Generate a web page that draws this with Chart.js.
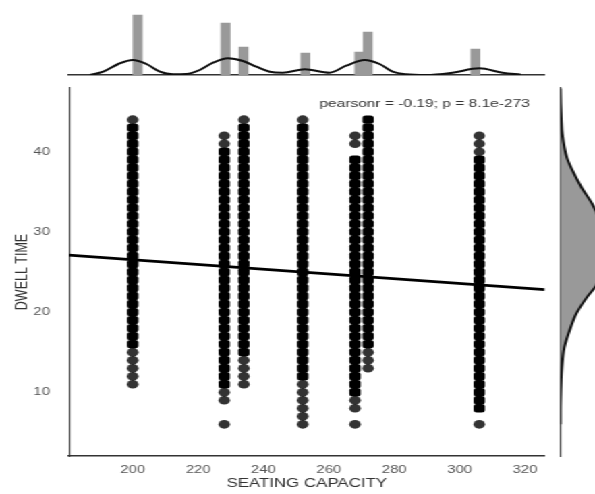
<!DOCTYPE html>
<html>
<head>
<meta charset="utf-8">
<script src="https://cdn.jsdelivr.net/npm/chart.js@4.4.1/dist/chart.umd.min.js"></script>
<style>
  html, body { margin: 0; padding: 0; background: #fff; overflow: hidden; }
  /* the reference is stretched sideways, so draw narrow and scale the whole stage */
  #stage { position: absolute; left: 0; top: 0; width: 441px; height: 494px;
           transform: scaleX(1.3492); transform-origin: 0 0; }
  #stage canvas { position: absolute; top: 0; }
</style>
</head>
<body>
<div id="stage">
  <canvas id="top-chart" width="441" height="80" style="left:0"></canvas>
  <canvas id="main-chart" width="441" height="494" style="left:0"></canvas>
  <canvas id="side-chart" width="43" height="494" style="left:410px"></canvas>
</div>
<script>
// Seating capacity columns and the dwell times seen in each one
const seatCapacity = [200, 228, 234, 252, 268, 272, 306];

// long runs of overlapping points (drawn solid black)
const dense200 = [16,17,18,19,20,21,22,23,24,25,26,27,28,29,30,31,32,33,34,35,36,37,38,39,40,41,42,43];
const dense228 = [11,12,13,14,15,16,17,18,19,20,21,22,23,24,25,26,27,28,29,30,31,32,33,34,35,36,37,38,39,40];
const dense234 = [15,16,17,18,19,20,21,22,23,24,25,26,27,28,29,30,31,32,33,34,35,36,37,38,39,40,41,42,43];
const dense252 = [12,13,14,15,16,17,18,19,20,21,22,23,24,25,26,27,28,29,30,31,32,33,34,35,36,37,38,39,40,41,42,43];
const dense268 = [10,11,12,13,14,15,16,17,18,19,20,21,22,23,24,25,26,27,28,29,30,31,32,33,34,35,36,37,38,39];
const dense272 = [16,17,18,19,20,21,22,23,24,25,26,27,28,29,30,31,32,33,34,35,36,37,38,39,40,41,42,43,44];
const dense306 = [8,9,10,11,12,13,14,15,16,17,18,19,20,21,22,23,24,25,26,27,28,29,30,31,32,33,34,35,36,37,38,39];

// single outlying points at the ends of each column
const sparse200 = [11, 12, 13, 14, 15, 44];
const sparse228 = [6, 9, 10, 41, 42];
const sparse234 = [11, 12, 13, 14, 44];
const sparse252 = [6, 7, 8, 9, 10, 11, 44];
const sparse268 = [6, 8, 9, 41, 42];
const sparse272 = [13, 14, 15];
const sparse306 = [6, 40, 41, 42];

const denseDwell = [dense200, dense228, dense234, dense252, dense268, dense272, dense306];
const sparseDwell = [sparse200, sparse228, sparse234, sparse252, sparse268, sparse272, sparse306];

// regression line at the axis limits
const regX = [180.5, 326];
const regY = [27.1, 22.8];

const xTicks = [200, 220, 240, 260, 280, 300, 320];
const yTicks = [10, 20, 30, 40];
const pearsonNote = 'pearsonr = -0.19; p = 8.1e-273';

// top marginal: histogram of seating capacity + kde
const histCenters = [201.5, 228.4, 233.9, 252.8, 269.3, 271.9, 304.8];
const histHeights = [60, 52, 28, 22, 23, 43, 26];
const kdeTopX = [187, 191, 195.6, 200, 204.2, 208.3, 212.3, 216.4, 220.5, 224.6, 229.1, 233.7, 237.8, 241.9, 245.9, 252.6, 260.2, 265.3, 270.9, 275.5, 279.5, 283.6, 289.7, 297.8, 306, 313.1, 318.7];
const kdeTopY = [0, 3.3, 11, 15, 11, 3.3, 0.7, 1, 5, 12.3, 16.7, 14, 8.3, 3.3, 2.3, 5.7, 2.3, 9.3, 15, 11, 3.3, 0.7, 0, 2.3, 6.7, 2.3, 0.3];

// right marginal: dwell time density (runs off the edge of the figure)
const kdeSideDwell = [6, 7.4, 11.5, 13, 15.6, 18.3, 19.8, 21.9, 23.3, 25.5, 27.5, 29.5, 31.4, 33.5, 35.6, 37.7, 39.3, 42.2, 44, 46, 47.9];
const kdeSideWidth = [0, 0, 0.8, 1.5, 4, 11, 16, 27, 36, 44, 47, 45, 40, 32, 21, 12, 6.5, 2, 1, 0.3, 0];

const xMin = 180.5, xMax = 326;
const yMin = 2.05, yMax = 47.95;

Chart.defaults.font.family = '"Liberation Sans", Arial, sans-serif';
Chart.defaults.animation = false;

const pairs = (xs, ys) => xs.map((x, i) => ({ x: x, y: ys[i] }));

// Main scatter + regression
const densePoints = [];
const sparsePoints = [];
seatCapacity.forEach((cap, i) => {
  denseDwell[i].forEach(v => densePoints.push({ x: cap, y: v }));
  sparseDwell[i].forEach(v => sparsePoints.push({ x: cap, y: v }));
});

const notePlugin = {
  id: 'note',
  afterDraw(chart) {
    const ctx = chart.ctx;
    ctx.save();
    ctx.font = '11.5px "Liberation Sans", Arial, sans-serif';
    ctx.fillStyle = '#333';
    ctx.textAlign = 'right';
    ctx.textBaseline = 'middle';
    ctx.fillText(pearsonNote, chart.chartArea.right - 11, chart.chartArea.top + 16);
    ctx.restore();
  }
};

new Chart(document.getElementById('main-chart'), {
  type: 'scatter',
  data: {
    datasets: [
      {
        type: 'line',
        data: pairs(regX, regY),
        borderColor: '#000',
        borderWidth: 2.6,
        pointRadius: 0,
        fill: false
      },
      {
        // rounded squares so the packed runs read as smooth bars
        data: densePoints,
        backgroundColor: '#000',
        borderWidth: 0,
        pointStyle: 'rectRounded',
        pointRadius: 4.9
      },
      {
        data: sparsePoints,
        backgroundColor: 'rgba(0,0,0,0.8)',
        borderWidth: 0,
        pointRadius: 4.3
      }
    ]
  },
  options: {
    responsive: false,
    devicePixelRatio: 1,
    layout: { padding: { left: 0, top: 88, right: 37.3, bottom: 0 } },
    plugins: { legend: { display: false }, tooltip: { enabled: false } },
    scales: {
      x: {
        type: 'linear',
        min: xMin,
        max: xMax,
        grid: { display: false, drawTicks: false },
        border: { display: true, color: '#333', width: 1.4 },
        ticks: { color: '#555', font: { size: 11 }, padding: 7 },
        afterBuildTicks: scale => { scale.ticks = xTicks.map(v => ({ value: v })); },
        afterFit: scale => { scale.height = 38; },
        title: { display: true, text: 'SEATING CAPACITY', color: '#333', font: { size: 12.5 }, padding: { top: 0, bottom: 3 } }
      },
      y: {
        type: 'linear',
        min: yMin,
        max: yMax,
        grid: { display: false, drawTicks: false },
        border: { display: true, color: '#333', width: 1.1 },
        ticks: { color: '#555', font: { size: 11 }, padding: 14 },
        afterBuildTicks: scale => { scale.ticks = yTicks.map(v => ({ value: v })); },
        afterFit: scale => { scale.width = 51.1; },
        title: { display: true, text: 'DWELL TIME', color: '#333', font: { size: 12.5 }, padding: { top: 9, bottom: 0 } }
      }
    }
  },
  plugins: [notePlugin]
});

// Top marginal
new Chart(document.getElementById('top-chart'), {
  type: 'bar',
  data: {
    datasets: [
      {
        type: 'line',
        data: pairs(kdeTopX, kdeTopY),
        borderColor: '#111',
        borderWidth: 2,
        pointRadius: 0,
        cubicInterpolationMode: 'monotone',
        fill: false
      },
      {
        data: pairs(histCenters, histHeights),
        backgroundColor: '#999',
        barThickness: 6.67
      }
    ]
  },
  options: {
    responsive: false,
    devicePixelRatio: 1,
    layout: { padding: { left: 51.1, top: 5, right: 37.3, bottom: 5 } },
    plugins: { legend: { display: false }, tooltip: { enabled: false } },
    scales: {
      x: {
        type: 'linear',
        offset: false,
        min: xMin,
        max: xMax,
        grid: { display: false, drawTicks: false },
        ticks: { display: false },
        border: { display: true, color: '#333', width: 1.4 },
        afterFit: scale => { scale.height = 0; }
      },
      y: { display: false, min: 0, max: 70 }
    }
  }
});

// Right marginal
new Chart(document.getElementById('side-chart'), {
  type: 'line',
  data: {
    datasets: [{
      data: pairs(kdeSideWidth, kdeSideDwell),
      borderColor: '#111',
      borderWidth: 2,
      backgroundColor: '#999',
      pointRadius: 0,
      cubicInterpolationMode: 'monotone',
      fill: 'origin'
    }]
  },
  options: {
    responsive: false,
    devicePixelRatio: 1,
    indexAxis: 'y',
    layout: { padding: { left: 5.3, top: 88, right: 0, bottom: 38 } },
    plugins: { legend: { display: false }, tooltip: { enabled: false } },
    scales: {
      x: { type: 'linear', display: false, min: 0, max: 51 },
      y: {
        type: 'linear',
        min: yMin,
        max: yMax,
        grid: { display: false, drawTicks: false },
        ticks: { display: false },
        border: { display: true, color: '#333', width: 1.1 },
        afterFit: scale => { scale.width = 0; }
      }
    }
  }
});
</script>
</body>
</html>
